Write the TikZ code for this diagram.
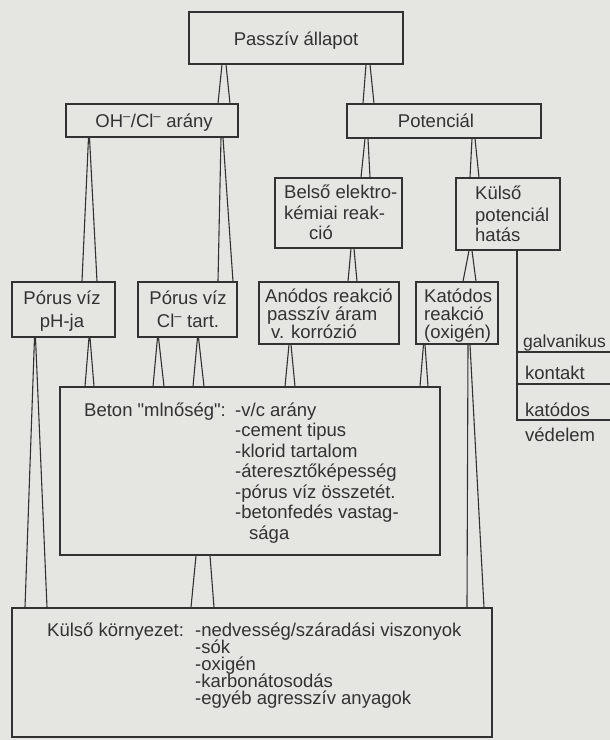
\documentclass[tikz,border=0pt]{standalone}
\usepackage{fontspec}
\setmainfont{Liberation Sans}[Ligatures=TeXOff]
\usetikzlibrary{fit}
\definecolor{ink}{RGB}{50,50,50}
\definecolor{paper}{RGB}{229,229,226}
\newcommand{\wc}[6]{\draw[conn] (#3,0 |- #1.south) -- (#5,0 |- #2.north) (#6,0 |- #2.north) -- (#4,0 |- #1.south);}
\newcommand{\negsup}{\textsuperscript{–}}
\tikzset{
  box/.style={draw=ink, line width=1.2pt, inner sep=0pt},
  conn/.style={draw=ink, line width=1.1pt},
  txt/.style={anchor=base west, inner sep=0pt, text=ink, font=\fontsize{18.5}{20}\selectfont},
  ctxt/.style={anchor=base, inner sep=0pt, text=ink, font=\fontsize{18.5}{20}\selectfont}
}
\begin{document}
\begin{tikzpicture}[x=1pt,y=-1pt]
\useasboundingbox (0,0) rectangle (610,740);
\fill[paper] (0,0) rectangle (610,740);
% boxes
\node[box, fit={(189,12) (403,64)}] (pass) {};
\node[box, fit={(66,104) (238,137)}] (ohcl) {};
\node[box, fit={(347,104) (541,138)}] (pot) {};
\node[box, fit={(275,178) (402,248)}] (bels) {};
\node[box, fit={(456,178) (560,250)}] (kpot) {};
\node[box, fit={(12,282) (115,337)}] (phw) {};
\node[box, fit={(138,282) (237,337)}] (clw) {};
\node[box, fit={(259,282) (399,344)}] (anod) {};
\node[box, fit={(416,282) (498,344)}] (katd) {};
\node[box, fit={(60,387) (440,555)}] (beton) {};
\node[box, fit={(12,608) (492,737)}] (kk) {};
% texts
\node[ctxt] (tpass) at (296,45) {Passzív állapot};
\node[ctxt] (tohcl) at (154,127) {OH\negsup/Cl\negsup\ arány};
\node[ctxt] (tpot) at (436,127) {Potenciál};
\node[txt] (tb1) at (284,198) {Belső elektro-};
\node[txt] (tb2) at (284,219) {kémiai reak-};
\node[txt] (tb3) at (309,239) {ció};
\node[txt] (tk1) at (475,199) {Külső};
\node[txt] (tk2) at (475,221) {potenciál};
\node[txt] (tk3) at (475,241) {hatás};
\node[ctxt] (tp1) at (62,304) {Pórus víz};
\node[ctxt] (tp2) at (62,327) {pH-ja};
\node[ctxt] (tc1) at (188,304) {Pórus víz};
\node[ctxt] (tc2) at (188,327) {Cl\negsup\ tart.};
\node[txt] (ta1) at (265,302) {Anódos reakció};
\node[txt] (ta2) at (267,320) {passzív áram};
\node[txt] (ta3) at (271,338) {v. korrózió};
\node[txt] (tt1) at (424,302) {Katódos};
\node[txt] (tt2) at (424,320) {reakció};
\node[txt] (tt3) at (424,338) {(oxigén)};
\node[txt, font=\fontsize{17.5}{20}\selectfont] (tg1) at (523,347) {galvanikus};
\node[txt] (tg2) at (525,379) {kontakt};
\node[txt] (tg3) at (525,416) {katódos};
\node[txt] (tg4) at (525,441) {védelem};
\node[txt] (tbe) at (84,416) {Beton "mlnőség":};
\node[txt] (tbe1) at (235,416) {-v/c arány};
\node[txt] (tbe2) at (235,436.5) {-cement tipus};
\node[txt] (tbe3) at (235,457) {-klorid tartalom};
\node[txt] (tbe4) at (235,477.5) {-áteresztőképesség};
\node[txt] (tbe5) at (235,498) {-pórus víz összetét.};
\node[txt] (tbe6) at (235,518.5) {-betonfedés vastag-};
\node[txt] (tbe7) at (249,539) {sága};
\node[txt] (tkk) at (47,636) {Külső környezet:};
\node[txt] (tkk1) at (195,636) {-nedvesség/száradási viszonyok};
\node[txt] (tkk2) at (195,653) {-sók};
\node[txt] (tkk3) at (195,670) {-oxigén};
\node[txt] (tkk4) at (195,687) {-karbonátosodás};
\node[txt] (tkk5) at (195,704) {-egyéb agresszív anyagok};
% wedge connectors
\wc{pass}{ohcl}{222}{226}{218}{230}
\wc{pass}{pot}{366}{370}{363}{374}
\wc{ohcl}{phw}{88.5}{89.5}{82}{97}
\wc{ohcl}{clw}{221}{223}{218}{233}
\wc{pot}{bels}{365}{368}{361}{370}
\wc{pot}{kpot}{472}{475}{470}{479}
\wc{bels}{anod}{351}{354}{348}{357}
\wc{kpot}{katd}{469}{472}{463}{476}
\wc{phw}{kk}{34.5}{35.5}{25}{47}
\wc{phw}{beton}{89}{90}{85}{94}
\wc{clw}{beton}{157.5}{158.5}{153}{164}
\wc{clw}{beton}{197.5}{198.5}{193}{204}
\wc{anod}{beton}{289}{291}{285}{295}
\wc{katd}{beton}{423.5}{425}{420}{428}
\wc{katd}{kk}{468}{470}{467}{484}
\wc{beton}{kk}{196}{210}{191}{214}
% right-hand branch
\coordinate (r0) at (517,420);
\coordinate (r1a) at (517,352);
\coordinate (r1b) at (610,352);
\coordinate (r2a) at (517,384);
\coordinate (r2b) at (610,384);
\coordinate (r3b) at (610,420);
\draw[conn] (517,0 |- kpot.south) -- (r0) -- (r3b);
\draw[conn] (r1a) -- (r1b);
\draw[conn] (r2a) -- (r2b);
\end{tikzpicture}
\end{document}
